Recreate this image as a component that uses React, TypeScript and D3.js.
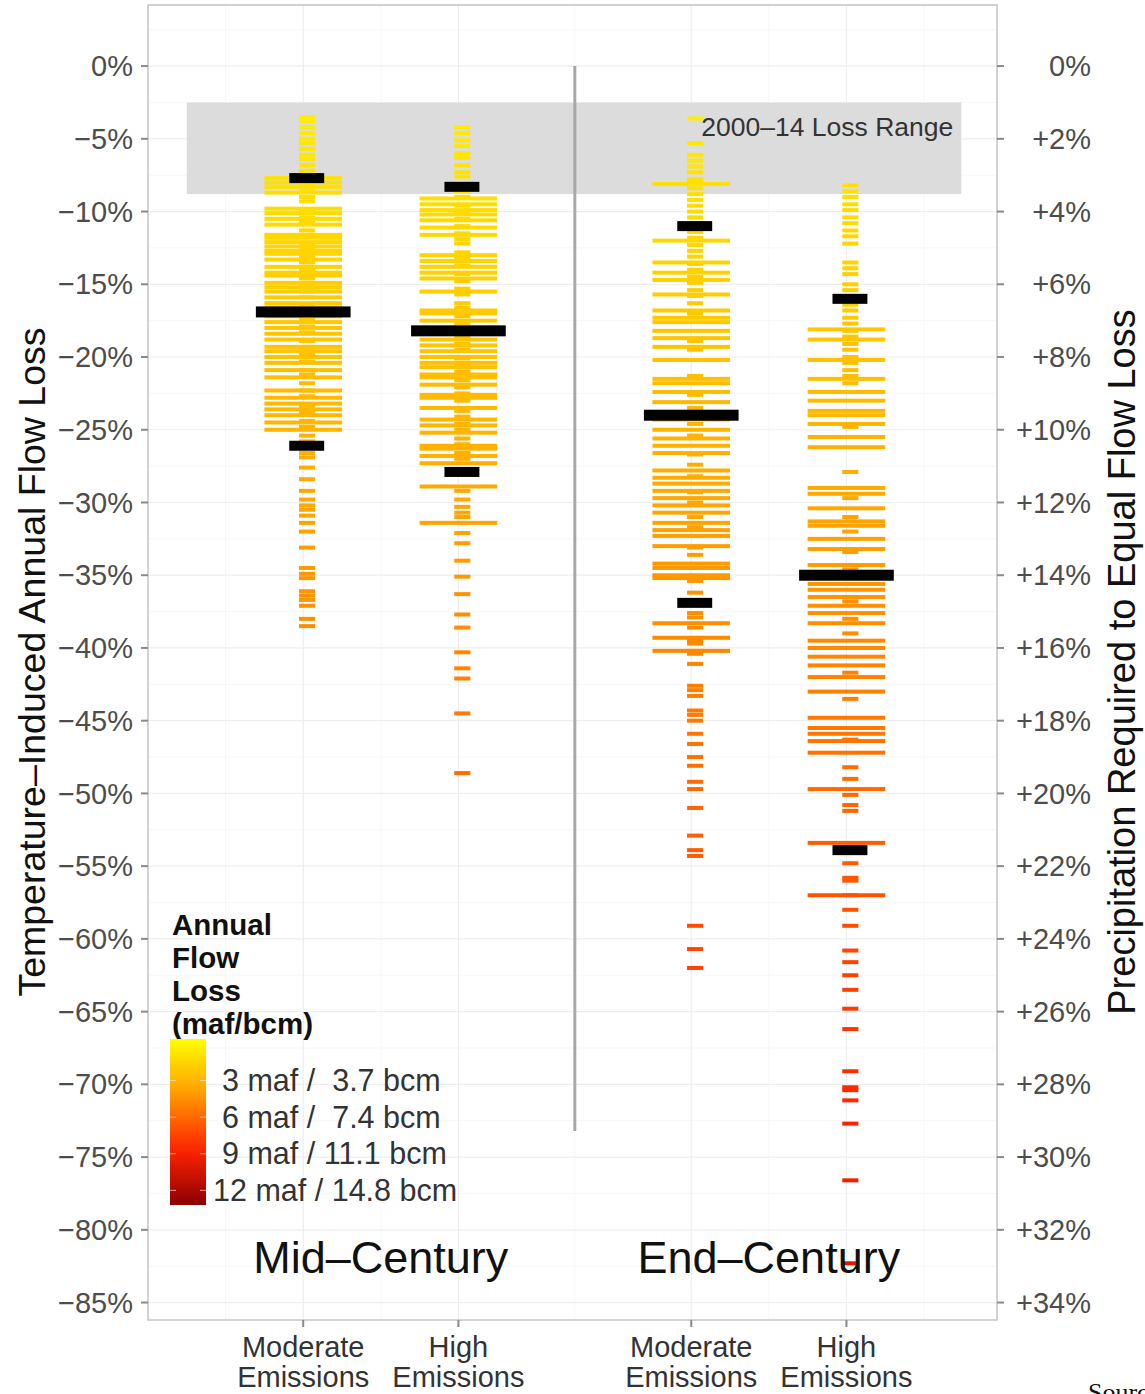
import React from 'react';
import * as d3 from 'd3';

// flow loss values (% change), one list per run set
const groups = ['Mid Moderate', 'Mid High', 'End Moderate', 'End High'];
const groupPos = [1, 2, 3.5, 4.5];
const emissionLabels = [['Moderate', 'Emissions'], ['High', 'Emissions'], ['Moderate', 'Emissions'], ['High', 'Emissions']];
const periodLabels = ['Mid\u2013Century', 'End\u2013Century'];
const periodPos = [1.5, 4];

const midModWide = [-7.7, -8.0, -8.3, -8.7, -9.8, -10.1, -10.5, -10.9, -11.6, -11.8, -12.1, -12.4, -12.7, -12.9, -13.3, -13.8, -14.2, -14.4, -14.9, -15.2, -15.5, -15.9, -16.3, -16.6, -17.2, -17.6, -18.0, -18.4, -18.8, -19.3, -19.6, -20.0, -20.4, -20.9, -21.4, -22.3, -22.8, -23.2, -23.6, -24.0, -24.5, -25.0];
const midModNarrow = [-3.5, -3.8, -4.2, -4.6, -5.0, -5.3, -5.7, -6.1, -6.4, -6.8, -7.2, -7.5, -8.1, -8.6, -9.0, -9.3, -9.9, -10.4, -10.7, -11.3, -11.7, -12.2, -12.6, -13.1, -13.5, -14.0, -14.6, -15.0, -15.5, -15.9, -16.4, -17.0, -17.4, -17.9, -18.3, -18.9, -19.4, -19.8, -20.3, -20.9, -21.2, -21.8, -22.3, -22.7, -23.4, -23.8, -24.4, -24.8, -25.4, -25.8, -26.6, -26.9, -27.6, -28.4, -29.2, -29.8, -30.2, -30.5, -30.9, -31.4, -32.0, -33.1, -34.5, -34.9, -35.2, -36.1, -36.4, -36.7, -37.1, -38.0, -38.5];

const midHighWide = [-9.1, -9.5, -9.9, -10.2, -10.6, -11.1, -11.6, -13.0, -13.4, -13.8, -14.2, -14.6, -15.5, -16.8, -17.0, -17.5, -18.4, -18.8, -19.2, -19.6, -20.0, -20.4, -20.7, -21.2, -21.4, -21.9, -22.6, -22.8, -23.5, -24.3, -24.7, -25.2, -26.1, -26.3, -26.8, -27.3, -28.9, -31.4];
const midHighNarrow = [-4.2, -4.6, -5.1, -5.5, -6.0, -6.3, -6.8, -7.3, -7.6, -8.6, -9.0, -9.6, -10.0, -10.5, -11.0, -11.5, -11.9, -12.2, -12.8, -13.2, -13.7, -14.3, -14.8, -15.3, -15.7, -16.3, -16.6, -17.2, -17.7, -18.1, -18.6, -19.1, -19.5, -20.1, -20.6, -21.0, -21.6, -22.1, -22.5, -23.0, -23.7, -24.1, -24.6, -25.0, -25.6, -26.0, -26.6, -27.0, -29.2, -29.8, -30.3, -30.7, -31.0, -32.1, -32.8, -34.0, -35.1, -36.3, -37.7, -38.6, -40.3, -41.4, -42.1, -44.5, -48.6];

const endModWide = [-8.1, -12.0, -13.5, -14.2, -14.7, -15.7, -16.8, -17.3, -17.6, -18.2, -18.7, -19.3, -20.2, -21.5, -21.8, -22.4, -23.1, -24.3, -25.0, -25.6, -26.1, -26.6, -27.8, -28.3, -28.7, -29.2, -29.7, -30.2, -30.7, -31.4, -31.9, -32.3, -33.0, -34.2, -34.5, -35.0, -35.2, -38.3, -39.3, -40.2];
const endModNarrow = [-3.6, -5.3, -6.1, -6.5, -6.9, -7.3, -7.8, -8.0, -8.4, -8.8, -9.2, -9.6, -10.0, -10.4, -10.8, -11.4, -11.8, -12.3, -12.7, -13.1, -13.6, -14.0, -14.5, -14.9, -15.4, -15.8, -16.3, -17.0, -18.9, -19.5, -21.3, -22.6, -23.5, -24.6, -25.4, -26.7, -27.4, -28.2, -29.3, -30.0, -31.0, -31.7, -33.1, -33.6, -34.5, -35.4, -36.2, -37.6, -37.9, -38.6, -39.5, -39.7, -40.2, -40.4, -41.1, -42.6, -42.9, -43.3, -44.3, -44.6, -45.0, -45.9, -46.6, -47.5, -48.1, -49.2, -49.7, -51.0, -52.9, -53.9, -54.3, -59.1, -60.7, -62.0];

const endHighWide = [-18.1, -18.8, -20.2, -21.5, -22.4, -23.0, -23.7, -24.0, -24.6, -25.5, -26.2, -29.0, -29.4, -30.4, -31.3, -31.6, -32.5, -33.2, -34.3, -35.6, -36.0, -36.5, -37.1, -37.6, -38.3, -39.5, -40.0, -40.6, -41.2, -42.0, -43.0, -44.8, -45.5, -45.9, -46.4, -47.2, -49.7, -53.4, -57.0];
const endHighNarrow = [-8.2, -8.6, -9.0, -9.5, -9.9, -10.4, -10.8, -11.3, -11.7, -12.2, -13.5, -13.9, -14.3, -15.0, -15.4, -15.8, -16.4, -16.8, -17.3, -17.7, -18.2, -18.6, -19.1, -19.5, -20.0, -20.4, -20.9, -21.3, -21.8, -24.8, -27.9, -29.7, -31.0, -32.0, -33.4, -34.6, -36.8, -38.0, -39.0, -41.7, -43.5, -46.3, -48.2, -49.0, -50.1, -50.8, -51.2, -54.8, -55.8, -56.0, -57.0, -58.0, -59.1, -60.8, -61.6, -62.5, -63.5, -64.8, -66.2, -69.1, -70.2, -70.4, -71.1, -72.7, -76.6, -82.3];

// 10th percentile, median, 90th percentile
const midModStats = [-7.7, -16.9, -26.1];
const midHighStats = [-8.3, -18.2, -27.9];
const endModStats = [-11.0, -24.0, -36.9];
const endHighStats = [-16.0, -35.0, -53.9];

const wideSets = [midModWide, midHighWide, endModWide, endHighWide];
const narrowSets = [midModNarrow, midHighNarrow, endModNarrow, endHighNarrow];
const statSets = [midModStats, midHighStats, endModStats, endHighStats];

const lossRange = [-2.5, -8.8];
const lossRangeLabel = '2000\u201314 Loss Range';

const leftTicks = d3.range(0, -86, -5);
const rightTicks = d3.range(0, 35, 2);
const legendTicks = [3, 6, 9, 12];
const legendLabels = ['3 maf /  3.7 bcm', '6 maf /  7.4 bcm', '9 maf / 11.1 bcm', '12 maf / 14.8 bcm'];
const legendTitle = ['Annual', 'Flow', 'Loss', '(maf/bcm)'];
const mafPerPct = 0.12;

const W = 1145;
const H = 1394;
const font = '"Liberation Sans", Arial, Helvetica, sans-serif';

export default function App() {
  const panel = { x0: 0, x1: 5.47, y0: 4.2, y1: -86.2 };
  const x = d3.scaleLinear().domain([panel.x0, panel.x1]).range([148, 997]);
  const y = d3.scaleLinear().domain([panel.y0, panel.y1]).range([5, 1320]);
  const yR = d3.scaleLinear().domain([0, 34]).range([y(0), y(-85)]);
  const color = d3
    .scaleLinear<string>()
    .domain([-0.4, 3.7, 8.7, 13.2])
    .range(['#ffff00', '#ffa500', '#ff2200', '#8b0000'])
    .interpolate(d3.interpolateRgb);
  const markColor = (v: number) => color(-v * mafPerPct);
  const legY = d3.scaleLinear().domain([-0.4, 13.2]).range([1039, 1205]);

  const majorY = leftTicks;
  const minorY = d3.range(2.5, -86, -5);
  const minorX = [0.5, 1.5, 2.75, 4, 5];
  const sepX = 2.75;

  const gradStops = d3.range(0, 1.0001, 0.1).map((t) => ({
    off: t,
    c: color(-0.4 + t * 13.6),
  }));

  return (
    <svg width={W} height={H} style={{ position: 'absolute', left: 0, top: 0, background: '#fff' }} fontFamily={font}>
      <defs>
        <linearGradient id="legGrad" x1="0" y1="0" x2="0" y2="1">
          {gradStops.map((s, i) => (
            <stop key={i} offset={s.off} stopColor={s.c} />
          ))}
        </linearGradient>
        <clipPath id="panelClip">
          <rect x={x(panel.x0)} y={y(panel.y0)} width={x(panel.x1) - x(panel.x0)} height={y(panel.y1) - y(panel.y0)} />
        </clipPath>
      </defs>
      <rect x={0} y={0} width={W} height={H} fill="#fff" />

      {/* grid */}
      <g>
        {minorY.map((v) => (
          <line key={'my' + v} x1={x(panel.x0)} x2={x(panel.x1)} y1={y(v)} y2={y(v)} stroke="#f7f7f7" strokeWidth={1} />
        ))}
        {minorX.map((v) => (
          <line key={'mx' + v} x1={x(v)} x2={x(v)} y1={y(panel.y0)} y2={y(panel.y1)} stroke="#f7f7f7" strokeWidth={1} />
        ))}
        {majorY.map((v) => (
          <line key={'gy' + v} x1={x(panel.x0)} x2={x(panel.x1)} y1={y(v)} y2={y(v)} stroke="#eeeeee" strokeWidth={1.2} />
        ))}
        {groupPos.map((v) => (
          <line key={'gx' + v} x1={x(v)} x2={x(v)} y1={y(panel.y0)} y2={y(panel.y1)} stroke="#eeeeee" strokeWidth={1.2} />
        ))}
      </g>

      {/* observed loss range band */}
      <rect
        x={x(0.25)}
        y={y(lossRange[0])}
        width={x(5.24) - x(0.25)}
        height={y(lossRange[1]) - y(lossRange[0])}
        fill="#dcdcdc"
      />

      {/* separator */}
      <line x1={x(sepX)} x2={x(sepX)} y1={y(0)} y2={y(-73.2)} stroke="#a8a8a8" strokeWidth={3} />

      <g clipPath="url(#panelClip)">
        {wideSets.map((set, gi) =>
          set.map((v, i) => (
            <rect
              key={`w${gi}-${i}`}
              x={x(groupPos[gi] - 0.25)}
              width={x(groupPos[gi] + 0.25) - x(groupPos[gi] - 0.25)}
              y={y(v) - 2}
              height={4}
              fill={markColor(v)}
            />
          ))
        )}
        {narrowSets.map((set, gi) =>
          set.map((v, i) => (
            <rect
              key={`n${gi}-${i}`}
              x={x(groupPos[gi] - 0.027)}
              width={x(groupPos[gi] + 0.077) - x(groupPos[gi] - 0.027)}
              y={y(v) - 2}
              height={4}
              fill={markColor(v)}
            />
          ))
        )}
        {statSets.map((s, gi) => (
          <g key={'s' + gi}>
            {[s[0], s[2]].map((v, j) => (
              <rect
                key={j}
                x={x(groupPos[gi] - 0.09)}
                width={x(groupPos[gi] + 0.135) - x(groupPos[gi] - 0.09)}
                y={y(v) - 5}
                height={10}
                fill="#000"
              />
            ))}
            <rect
              x={x(groupPos[gi] - 0.305)}
              width={x(groupPos[gi] + 0.305) - x(groupPos[gi] - 0.305)}
              y={y(s[1]) - 5.5}
              height={11}
              fill="#000"
            />
          </g>
        ))}
      </g>

      <text x={x(3.565)} y={y(-4.3)} fontSize={26.5} fill="#333" dominantBaseline="middle">
        {lossRangeLabel}
      </text>

      {periodLabels.map((t, i) => (
        <text key={t} x={x(periodPos[i])} y={y(-82) + 14} fontSize={45} fill="#111" textAnchor="middle">
          {t}
        </text>
      ))}

      {/* panel border */}
      <rect
        x={x(panel.x0)}
        y={y(panel.y0)}
        width={x(panel.x1) - x(panel.x0)}
        height={y(panel.y1) - y(panel.y0)}
        fill="none"
        stroke="#c4c4c4"
        strokeWidth={1.5}
      />

      {/* left axis */}
      <g>
        {leftTicks.map((v) => (
          <g key={'lt' + v}>
            <line x1={x(panel.x0) - 7} x2={x(panel.x0)} y1={y(v)} y2={y(v)} stroke="#8a8a8a" strokeWidth={2} />
            <text x={x(panel.x0) - 15} y={y(v)} dy="0.35em" fontSize={29} fill="#4d4d4d" textAnchor="end">
              {v === 0 ? '0%' : `\u2212${Math.abs(v)}%`}
            </text>
          </g>
        ))}
      </g>

      {/* right axis */}
      <g>
        {rightTicks.map((v) => (
          <g key={'rt' + v}>
            <line x1={x(panel.x1)} x2={x(panel.x1) + 7} y1={yR(v)} y2={yR(v)} stroke="#8a8a8a" strokeWidth={2} />
            <text x={1091} y={yR(v)} dy="0.35em" fontSize={29} fill="#4d4d4d" textAnchor="end">
              {v === 0 ? '0%' : `+${v}%`}
            </text>
          </g>
        ))}
      </g>

      {/* bottom axis */}
      <g>
        {groupPos.map((g, i) => (
          <g key={'bx' + i}>
            <line x1={x(g)} x2={x(g)} y1={y(panel.y1)} y2={y(panel.y1) + 7} stroke="#8a8a8a" strokeWidth={2} />
            {emissionLabels[i].map((t, j) => (
              <text key={j} x={x(g)} y={1357 + j * 30} fontSize={29} fill="#333" textAnchor="middle">
                {t}
              </text>
            ))}
          </g>
        ))}
      </g>

      {/* axis titles */}
      <text transform={`translate(45, ${662}) rotate(-90)`} fontSize={37.5} fill="#111" textAnchor="middle">
        Temperature{'\u2013'}Induced Annual Flow Loss
      </text>
      <text transform={`translate(1135, ${662}) rotate(-90)`} fontSize={38} fill="#111" textAnchor="middle">
        Precipitation Required to Equal Flow Loss
      </text>

      {/* legend */}
      <g>
        {legendTitle.map((t, i) => (
          <text key={t} x={172} y={935 + i * 33} fontSize={29.5} fontWeight="bold" fill="#111">
            {t}
          </text>
        ))}
        <rect x={170} y={legY(-0.4)} width={36} height={legY(13.2) - legY(-0.4)} fill="url(#legGrad)" />
        {legendTicks.map((v) => (
          <g key={'lg' + v}>
            <line x1={170} x2={176} y1={legY(v)} y2={legY(v)} stroke="#fff" strokeOpacity={0.6} strokeWidth={1} />
            <line x1={200} x2={206} y1={legY(v)} y2={legY(v)} stroke="#fff" strokeOpacity={0.6} strokeWidth={1} />
          </g>
        ))}
        {legendLabels.map((t, i) => (
          <text
            key={t}
            x={i === 3 ? 213 : 222}
            y={legY(legendTicks[i])}
            dy="0.35em"
            fontSize={30.5}
            fill="#333"
            style={{ whiteSpace: 'pre' }}
          >
            {t}
          </text>
        ))}
      </g>

      <text x={1088} y={1401} fontSize={26} fontFamily="'Liberation Serif', 'DejaVu Serif', serif" fill="#111">
        Source
      </text>
    </svg>
  );
}
